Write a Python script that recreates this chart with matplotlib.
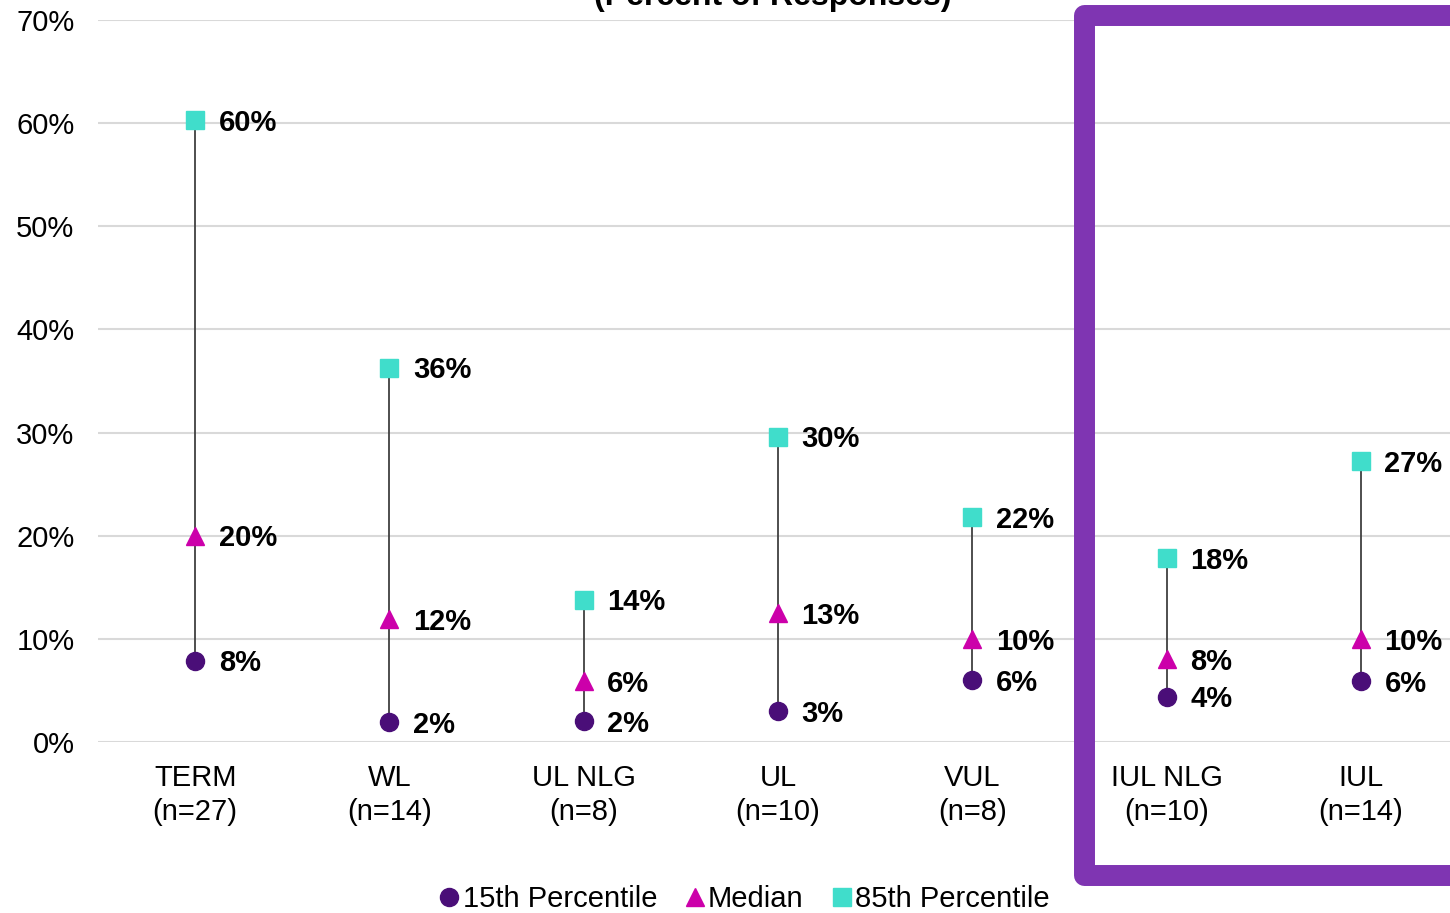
import matplotlib
matplotlib.use("Agg")
import matplotlib.pyplot as plt
from matplotlib.lines import Line2D

plt.rcParams['font.family'] = ['Liberation Sans', 'DejaVu Sans']

categories = ["TERM\n(n=27)", "WL\n(n=14)", "UL NLG\n(n=8)", "UL\n(n=10)",
              "VUL\n(n=8)", "IUL NLG\n(n=10)", "IUL\n(n=14)"]
p15 = [7.9, 1.9, 2.0, 3.0, 6.0, 4.4, 5.9]
median = [20.0, 11.9, 5.9, 12.5, 10.0, 8.05, 10.0]
p85 = [60.3, 36.3, 13.8, 29.6, 21.8, 17.8, 27.2]
p15_labels = ["8%", "2%", "2%", "3%", "6%", "4%", "6%"]
median_labels = ["20%", "12%", "6%", "13%", "10%", "8%", "10%"]
p85_labels = ["60%", "36%", "14%", "30%", "22%", "18%", "27%"]
yticks = [0, 10, 20, 30, 40, 50, 60, 70]

C15 = "#4A0E78"
CMED = "#CC00AA"
C85 = "#40DDCB"
FS = 21

W, H = 1450, 913
fig = plt.figure(figsize=(W / 100, H / 100), dpi=100)
ax = fig.add_axes([98 / W, 1 - 742 / H, 1360 / W, 722 / H])

x = list(range(len(categories)))
for i in x:
    ax.plot([i, i], [p15[i], p85[i]], color="#404040", lw=1.3, zorder=2)
ax.plot(x, p15, 'o', color=C15, ms=13, ls='none', zorder=3)
ax.plot(x, median, '^', color=CMED, ms=13, ls='none', zorder=3)
ax.plot(x, p85, 's', color=C85, ms=13, ls='none', zorder=3)

for vals, labs in ((p15, p15_labels), (median, median_labels), (p85, p85_labels)):
    for i, (v, l) in enumerate(zip(vals, labs)):
        ax.annotate(l, (i, v), xytext=(17, -2), textcoords='offset points',
                    ha='left', va='center', fontsize=FS, fontweight='bold',
                    color='black', zorder=4)

ax.set_xlim(-0.5, len(categories) - 0.5)
ax.set_ylim(0, 70)
ax.set_yticks(yticks)
ax.set_yticklabels([f"{t}%" for t in yticks], fontsize=FS)
ax.set_xticks(x)
ax.set_xticklabels(categories, fontsize=FS, linespacing=1.28)
ax.tick_params(axis='both', length=0)
ax.tick_params(axis='y', pad=17)
ax.tick_params(axis='x', pad=16)
ax.grid(axis='y', color='#d9d9d9', lw=1.5, zorder=0)
ax.set_axisbelow(True)
for s in ax.spines.values():
    s.set_visible(False)

fig.text(773 / W, 1 - 5 / H, "(Percent of Responses)", ha='center', va='baseline',
         fontsize=23, fontweight='bold')

# highlight frame (open on the right, beyond the figure edge)
xl, xr = 1083.5 / W, 1.1
yt, yb = 1 - 15.5 / H, 1 - 874.5 / H
frame = Line2D([xr, xl, xl, xr], [yt, yt, yb, yb], transform=fig.transFigure,
               color="#7F35B2", lw=15.1, solid_joinstyle='round',
               solid_capstyle='butt', zorder=10)
fig.add_artist(frame)

handles = [
    Line2D([], [], marker='o', color=C15, ls='none', ms=13),
    Line2D([], [], marker='^', color=CMED, ls='none', ms=13),
    Line2D([], [], marker='s', color=C85, ls='none', ms=13),
]
fig.legend(handles, ["15th Percentile", "Median", "85th Percentile"], ncol=3,
           loc='center', bbox_to_anchor=(745 / W, 1 - 899 / H), frameon=False,
           fontsize=FS, handlelength=0.6, handletextpad=0.15, columnspacing=1.0,
           borderaxespad=0, borderpad=0)

fig.savefig("out.png", dpi=100)
